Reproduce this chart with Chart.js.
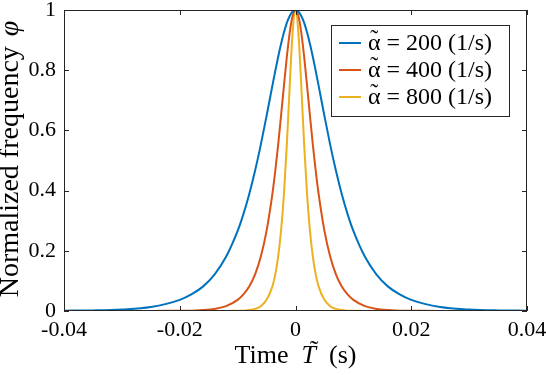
<!DOCTYPE html>
<html>
<head>
<meta charset="utf-8">
<script src="https://cdn.jsdelivr.net/npm/chart.js@4.4.1/dist/chart.umd.min.js"></script>
<style>
  html, body { margin: 0; padding: 0; background: #fff; }
  #wrap { width: 546px; height: 375px; }
</style>
</head>
<body>
<div id="wrap"><canvas id="chart"></canvas></div>
<script>
// Tiempos (s) de las muestras
const times = [-0.04, -0.035, -0.03, -0.025, -0.02, -0.018, -0.016, -0.014, -0.012, -0.01,
  -0.009, -0.008, -0.007, -0.006, -0.005, -0.004, -0.0035, -0.003, -0.0025, -0.002,
  -0.0015, -0.001, -0.0005, 0, 0.0005, 0.001, 0.0015, 0.002, 0.0025, 0.003, 0.0035,
  0.004, 0.005, 0.006, 0.007, 0.008, 0.009, 0.01, 0.012, 0.014, 0.016, 0.018, 0.02,
  0.025, 0.03, 0.035, 0.04];

// Frecuencia normalizada para cada alfa
const phi200 = [0.001, 0.002, 0.005, 0.013, 0.037, 0.055, 0.081, 0.121, 0.180, 0.266,
  0.322, 0.388, 0.465, 0.552, 0.648, 0.748, 0.797, 0.844, 0.887, 0.925,
  0.957, 0.980, 0.995, 1, 0.995, 0.980, 0.957, 0.925, 0.887, 0.844, 0.797,
  0.748, 0.648, 0.552, 0.465, 0.388, 0.322, 0.266, 0.180, 0.121, 0.081, 0.055, 0.037,
  0.013, 0.005, 0.002, 0.001];
const phi400 = [0, 0, 0, 0, 0.001, 0.001, 0.003, 0.007, 0.016, 0.037,
  0.055, 0.081, 0.121, 0.180, 0.266, 0.388, 0.465, 0.552, 0.648, 0.748,
  0.844, 0.925, 0.980, 1, 0.980, 0.925, 0.844, 0.748, 0.648, 0.552, 0.465,
  0.388, 0.266, 0.180, 0.121, 0.081, 0.055, 0.037, 0.016, 0.007, 0.003, 0.001, 0.001,
  0, 0, 0, 0];
const phi800 = [0, 0, 0, 0, 0, 0, 0, 0, 0, 0.001,
  0.001, 0.003, 0.007, 0.016, 0.037, 0.081, 0.121, 0.180, 0.266, 0.388,
  0.552, 0.748, 0.925, 1, 0.925, 0.748, 0.552, 0.388, 0.266, 0.180, 0.121,
  0.081, 0.037, 0.016, 0.007, 0.003, 0.001, 0.001, 0, 0, 0, 0, 0,
  0, 0, 0, 0];

const seriesLabels = ['α̃ = 200 (1/s)', 'α̃ = 400 (1/s)', 'α̃ = 800 (1/s)'];
const seriesColors = ['#0072BD', '#D95319', '#EDB120'];

// Etiquetas de los ejes
const xTickLabels = ['-0.04', '-0.02', '0', '0.02', '0.04'];
const yTickLabels = ['0', '0.2', '0.4', '0.6', '0.8', '1'];

const serif = "'Liberation Serif', 'DejaVu Serif', serif";
const axisColor = '#262626';

function toPoints(values) {
  return times.map((t, i) => ({ x: t, y: values[i] }));
}

// Escribe una letra con tilde encima (la tilde combinada no sale bien)
function drawTilde(ctx, ch, x, y, font, dx, dy) {
  ctx.font = font;
  const w = ctx.measureText(ch).width;
  ctx.fillText(ch, x, y);
  ctx.save();
  ctx.textAlign = 'center';
  ctx.fillText('˜', x + w / 2 + dx, y + dy);
  ctx.restore();
  return w;
}

// Marco, marcas interiores, títulos y leyenda dibujados a mano
const decorPlugin = {
  id: 'decor',
  afterDatasetsDraw(chart) {
    const ctx = chart.ctx;
    const a = chart.chartArea;
    const xs = chart.scales.x, ys = chart.scales.y;
    ctx.save();
    ctx.strokeStyle = axisColor;
    ctx.lineWidth = 1;
    ctx.strokeRect(a.left + 0.5, a.top + 0.5, a.right - a.left - 1, a.bottom - a.top - 1);

    const tl = 5;
    ctx.beginPath();
    xs.ticks.forEach(t => {
      const px = Math.round(xs.getPixelForValue(t.value)) + 0.5;
      ctx.moveTo(px, a.bottom); ctx.lineTo(px, a.bottom - tl);
      ctx.moveTo(px, a.top); ctx.lineTo(px, a.top + tl);
    });
    ys.ticks.forEach(t => {
      const py = Math.round(ys.getPixelForValue(t.value)) + 0.5;
      ctx.moveTo(a.left, py); ctx.lineTo(a.left + tl, py);
      ctx.moveTo(a.right, py); ctx.lineTo(a.right - tl, py);
    });
    ctx.stroke();

    // Leyenda
    const lx = 331, ly = 25, lw = 178, lh = 91;
    ctx.fillStyle = '#fff';
    ctx.fillRect(lx, ly, lw, lh);
    ctx.strokeRect(lx + 0.5, ly + 0.5, lw, lh);
    const lf = '24px ' + serif;
    ctx.textBaseline = 'alphabetic';
    ctx.textAlign = 'left';
    chart.data.datasets.forEach((ds, i) => {
      const cy = ly + 18 + i * 27;
      ctx.strokeStyle = ds.borderColor;
      ctx.lineWidth = 2;
      ctx.beginPath();
      ctx.moveTo(lx + 8, cy); ctx.lineTo(lx + 30, cy);
      ctx.stroke();
      ctx.fillStyle = '#000';
      const base = cy + 7;
      const w = drawTilde(ctx, ds.label.charAt(0), lx + 37, base, lf, 0, -4);
      ctx.font = lf;
      ctx.fillText(ds.label.slice(2), lx + 37 + w, base);
    });

    // Título eje x
    ctx.fillStyle = '#000';
    ctx.textBaseline = 'alphabetic';
    const x1 = 'Time  ', x3 = '  (s)';
    const fN = '26px ' + serif, fI = 'italic 26px ' + serif;
    ctx.font = fN; const w1 = ctx.measureText(x1).width, w3 = ctx.measureText(x3).width;
    ctx.font = fI; const w2 = ctx.measureText('T').width;
    let sx = (a.left + a.right) / 2 - (w1 + w2 + w3) / 2;
    const by = 363;
    ctx.font = fN; ctx.fillText(x1, sx, by);
    ctx.font = fI; ctx.fillText('T', sx + w1, by);
    ctx.font = fN; ctx.fillText('˜', sx + w1 + w2 / 2 + 1, by - 5);
    ctx.fillText(x3, sx + w1 + w2, by);

    // Título eje y
    ctx.translate(18, (a.top + a.bottom) / 2);
    ctx.rotate(-Math.PI / 2);
    const y1 = 'Normalized frequency ', y2 = 'φ';
    const gN = '28px ' + serif, gI = 'italic 28px ' + serif;
    ctx.font = gN; const v1 = ctx.measureText(y1).width;
    ctx.font = gI; const v2 = ctx.measureText(y2).width;
    const sy = -(v1 + v2) / 2;
    ctx.font = gN; ctx.fillText(y1, sy, 0);
    ctx.font = gI; ctx.fillText(y2, sy + v1 + 3, 0);
    ctx.restore();
  }
};

new Chart(document.getElementById('chart'), {
  type: 'line',
  data: {
    datasets: [phi200, phi400, phi800].map((vals, i) => ({
      label: seriesLabels[i],
      data: toPoints(vals),
      borderColor: seriesColors[i],
      backgroundColor: seriesColors[i],
      borderWidth: 2,
      pointRadius: 0,
      fill: false,
      cubicInterpolationMode: 'monotone'
    }))
  },
  options: {
    responsive: true,
    maintainAspectRatio: false,
    animation: false,
    layout: { padding: { top: 10, right: 19, left: 0, bottom: 0 } },
    plugins: { legend: { display: false }, tooltip: { enabled: false } },
    scales: {
      x: {
        type: 'linear',
        min: -0.04, max: 0.04,
        grid: { display: false, drawTicks: false },
        border: { display: false },
        ticks: {
          stepSize: 0.02,
          maxRotation: 0,
          padding: 6,
          color: '#000',
          font: { family: serif, size: 22 },
          callback: (v, i) => xTickLabels[i]
        },
        afterFit: s => { s.height = 64; s.paddingLeft = 0; s.paddingRight = 0; }
      },
      y: {
        min: 0, max: 1,
        grid: { display: false, drawTicks: false },
        border: { display: false },
        ticks: {
          stepSize: 0.2,
          padding: 8,
          color: '#000',
          font: { family: serif, size: 22 },
          callback: (v, i) => yTickLabels[i]
        },
        afterFit: s => { s.width = 64; s.paddingTop = 0; s.paddingBottom = 0; }
      }
    }
  },
  plugins: [decorPlugin]
});
</script>
</body>
</html>
